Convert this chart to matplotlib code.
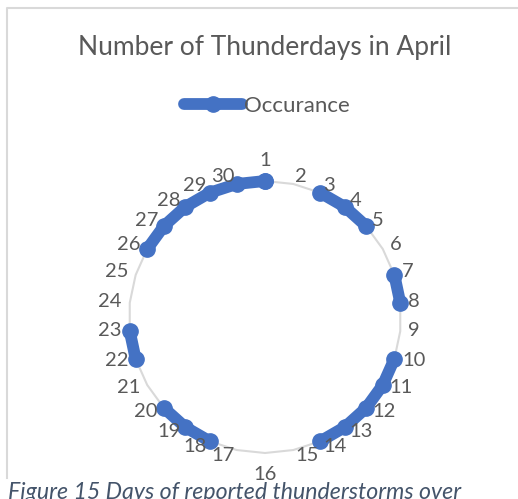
import matplotlib.pyplot as plt
import numpy as np
from matplotlib.lines import Line2D

plt.rcParams['font.family'] = ['Lato', 'DejaVu Sans']

days = [str(d) for d in range(1, 31)]
# 1 = thunderstorm reported, None = no report (gap in the line)
occurance = [1, None, 1, 1, 1, None, 1, 1, None, 1,
             1, 1, 1, 1, None, None, None, 1, 1, 1,
             None, 1, 1, None, None, 1, 1, 1, 1, 1]

W, H = 518, 499
fig = plt.figure(figsize=(W / 100, H / 100), dpi=100)

# chart area border (left + top visible)
fig.add_artist(Line2D([7 / W, 7 / W, 1], [1 - 478 / H, 1 - 8 / H, 1 - 8 / H],
                      transform=fig.transFigure, color='#d9d9d9', lw=1.5))

cx, cy, r = 265, 317, 136
ax = fig.add_axes([(cx - r) / W, (H - cy - r) / H, 2 * r / W, 2 * r / H],
                  projection='polar')
ax.set_theta_zero_location('N')
ax.set_theta_direction(-1)
ax.set_ylim(0, 1)
ax.grid(False)
ax.spines['polar'].set_visible(False)
ax.set_xticks([])
ax.set_yticks([])
ax.patch.set_alpha(0)

n = len(days)
theta = np.arange(n) * 2 * np.pi / n
# outer gridline polygon
ax.plot(np.append(theta, theta[0]), np.ones(n + 1), color='#d9d9d9', lw=1.5,
        clip_on=False, zorder=1)

vals = np.array([np.nan if v is None else v for v in occurance], dtype=float)
ax.plot(np.append(theta, theta[0]), np.append(vals, vals[0]), color='#4472c4',
        lw=8.5, marker='o', ms=11, solid_capstyle='round', clip_on=False, zorder=3)

# category labels, placed the way Excel does it: beside the vertex on the sides,
# above / below it at the top and bottom
for t, lab in zip(theta, days):
    s, c = np.sin(t), np.cos(t)
    if abs(s) < 0.01:
        ha, dx, dy = 'center', 0, 21 * np.sign(c)
    else:
        ha = 'left' if s > 0 else 'right'
        dx, dy = 8 * s, 7 * c + 1
    ax.annotate(lab, (t, 1), xytext=(dx, dy), textcoords='offset pixels',
                ha=ha, va='center', fontsize=14.5, color='#595959',
                annotation_clip=False)

fig.text(cx / W, 1 - 47 / H, 'Number of Thunderdays in April', ha='center',
         va='center', fontsize=19, color='#595959')

handle = Line2D([], [], color='#4472c4', lw=8.5, marker='o', ms=11,
                solid_capstyle='round')
fig.legend([handle], ['Occurance'], loc='center', bbox_to_anchor=(267 / W, 1 - 106 / H),
           frameon=False, fontsize=16, labelcolor='#595959', handlelength=2.6,
           handletextpad=0.1)

fig.text(8 / W, 1 - 499 / H, 'Figure 15 Days of reported thunderstorms over',
         ha='left', va='baseline', fontsize=16.7, style='italic', color='#44546a')

fig.savefig('out.png', dpi=100)
